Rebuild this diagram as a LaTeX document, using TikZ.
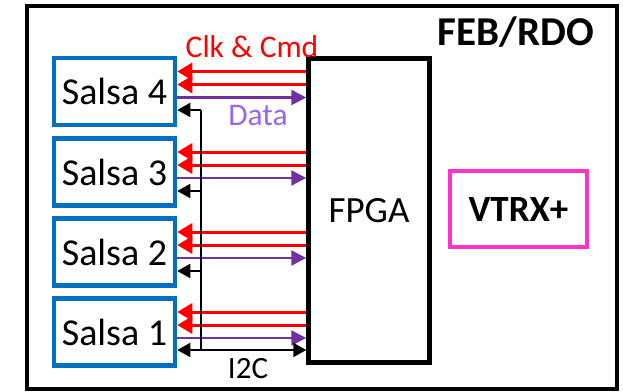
\documentclass[tikz,border=0pt]{standalone}
\usepackage{fontspec}
\setmainfont{Carlito}
\usetikzlibrary{arrows.meta,calc}
\definecolor{sblue}{HTML}{0070C0}
\definecolor{spurple}{HTML}{7030A0}
\definecolor{dtext}{HTML}{9A66EE}
\definecolor{vpink}{HTML}{FF33CC}
\tikzset{
  salsa/.style={draw=sblue,line width=4.5pt,minimum width=121pt,minimum height=67pt,inner sep=0pt,font=\fontsize{38}{42}\selectfont},
  fpgabox/.style={draw=black,line width=4.5pt,minimum width=121pt,minimum height=304pt,inner sep=0pt,font=\fontsize{37}{40}\selectfont},
  vtrxbox/.style={draw=vpink,line width=4pt,minimum width=137pt,minimum height=76pt,inner sep=0pt,font=\bfseries\fontsize{37}{40}\selectfont},
  redarr/.style={draw=red,line width=3pt,-{Triangle[length=15pt,width=17pt]}},
  purarr/.style={draw=spurple,line width=2.5pt,-{Triangle[length=15pt,width=15pt]}},
  blkarr/.style={draw=black,line width=2pt,-{Triangle[length=13pt,width=14pt]}},
  i2carr/.style={draw=black,line width=2pt,{Triangle[length=13pt,width=14pt]}-{Triangle[length=13pt,width=14pt]}},
  lbl/.style={inner sep=0pt,font=\fontsize{31.5}{34}\selectfont},
}
\begin{document}
\begin{tikzpicture}[x=1pt,y=-1pt]
\useasboundingbox (0,0) rectangle (623,391);
\draw[line width=3.5pt] (27,6) rectangle (617,389);
\node[inner sep=0pt,font=\bfseries\fontsize{41}{44}\selectfont] (feb) at (516,32) {FEB/RDO};
\node[fpgabox] (fpga) at (369,210.5) {FPGA};
\node[vtrxbox] (vtrx) at (518.5,209) {VTRX+};
\foreach \i/\y in {4/91.5,3/172,2/252,1/332}{
  \node[salsa] (s\i) at (114.5,\y) {Salsa \i};
  \coordinate (ra\i) at ($(s\i.east)+(0,-20)$);
  \coordinate (rb\i) at ($(s\i.east)+(0,-7)$);
  \coordinate (pd\i) at ($(s\i.east)+(0,6)$);
  \draw[redarr] (fpga.west |- ra\i) -- (ra\i);
  \draw[redarr] (fpga.west |- rb\i) -- (rb\i);
  \draw[purarr] (pd\i) -- (fpga.west |- pd\i);
}
\coordinate (vtop) at (201,110);
\coordinate (vbot) at (201,350);
\draw[line width=1.2pt] (vtop) -- (vbot);
\coordinate (b4) at (s4.east |- vtop);
\coordinate (b3) at ($(s3.east)+(0,19)$);
\coordinate (b2) at ($(s2.east)+(0,19)$);
\draw[blkarr] (vtop) -- (b4);
\draw[blkarr] (vtop |- b3) -- (b3);
\draw[blkarr] (vtop |- b2) -- (b2);
\coordinate (b1) at (s1.east |- vbot);
\draw[i2carr] (b1) -- (fpga.west |- vbot);
\node[lbl,text=red] (clk) at (252,47) {Clk \& Cmd};
\node[lbl,text=dtext] (data) at (258,116) {Data};
\node[lbl,font=\fontsize{31}{34}\selectfont] (i2c) at (248,369) {I2C};
\end{tikzpicture}
\end{document}
